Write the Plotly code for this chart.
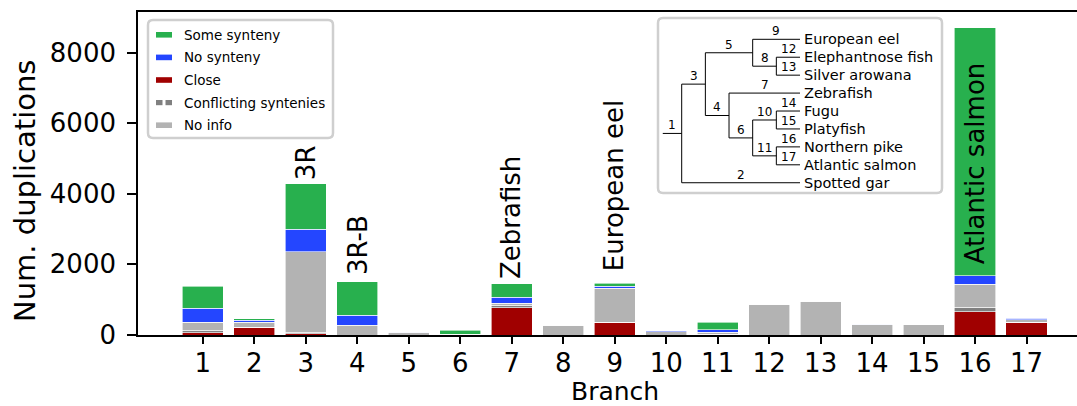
import plotly.graph_objects as go

# ---------------- data ----------------
branches = list(range(1, 18))
close = [66, 217, 40, 0, 0, 0, 773, 0, 358, 0, 15, 0, 0, 0, 0, 660, 358]
conflicting = [66, 0, 35, 0, 0, 0, 75, 0, 0, 0, 0, 0, 0, 0, 0, 123, 0]
no_info = [236, 142, 2283, 283, 70, 15, 47, 283, 971, 95, 70, 877, 953, 295, 292, 651, 80]
no_synteny = [387, 57, 632, 283, 15, 0, 179, 0, 57, 28, 66, 0, 0, 16, 0, 245, 35]
some_synteny = [623, 47, 1292, 943, 0, 120, 377, 0, 75, 0, 208, 0, 0, 0, 0, 7018, 15]

series_names = ["Close", "Conflicting syntenies", "No info", "No synteny", "Some synteny"]
series_values = [close, conflicting, no_info, no_synteny, some_synteny]
series_colors = ["#a00000", "#808080", "#b3b3b3", "#2446ff", "#28b04e"]
legend_order = ["Some synteny", "No synteny", "Close", "Conflicting syntenies", "No info"]

bar_label_branches = [3, 4, 7, 9]
bar_label_texts = ["3R", "3R-B", "Zebrafish", "European eel"]
inside_label_branch = 16
inside_label_text = "Atlantic salmon"

ytick_vals = [0, 2000, 4000, 6000, 8000]

# tree: (branch label, children or leaf name)
tree = ("1", [
    ("3", [
        ("5", [("9", "European eel"),
               ("8", [("12", "Elephantnose fish"), ("13", "Silver arowana")])]),
        ("4", [("7", "Zebrafish"),
               ("6", [("10", [("14", "Fugu"), ("15", "Platyfish")]),
                      ("11", [("16", "Northern pike"), ("17", "Atlantic salmon")])])]),
    ]),
    ("2", "Spotted gar"),
])

# ---------------- layout geometry ----------------
W, H = 1077, 406
ML, MR, MT, MB = 138, 0, 12, 71
PW = W - ML - MR
PH = H - MT - MB
FONT = "DejaVu Sans"


def pxx(x):
    return (x - ML) / PW


def pxy(y):
    return (H - MB - y) / PH


fig = go.Figure()
for name, vals, col in zip(series_names, series_values, series_colors):
    fig.add_trace(go.Bar(
        x=branches, y=vals, name=name, width=0.8, showlegend=False,
        marker=dict(color=col, line=dict(color="rgba(255,255,255,0.75)", width=0.8)),
    ))

totals = [sum(v) for v in zip(*series_values)]
below_green = [t - g for t, g in zip(totals, some_synteny)]

annotations = []
label_shifts = [2, 5, 3, 10.5]
for b, t, s in zip(bar_label_branches, bar_label_texts, label_shifts):
    annotations.append(dict(
        x=b, y=totals[b - 1], xref="x", yref="y", text=t, textangle=-90,
        xanchor="center", yanchor="bottom", yshift=s, showarrow=False,
        font=dict(family=FONT, size=26, color="black")))
annotations.append(dict(
    x=inside_label_branch, y=below_green[inside_label_branch - 1], xref="x", yref="y",
    text=inside_label_text, textangle=-90, xanchor="center", yanchor="bottom",
    yshift=9.5, showarrow=False, font=dict(family=FONT, size=26, color="black")))

# axis titles
annotations.append(dict(x=9, y=pxy(391.5), xref="x", yref="paper", text="Branch",
                        showarrow=False, xanchor="center", yanchor="middle",
                        font=dict(family=FONT, size=25, color="black")))
annotations.append(dict(x=pxx(25), y=pxy(191), xref="paper", yref="paper",
                        text="Num. duplications", textangle=-90, showarrow=False,
                        xanchor="center", yanchor="middle",
                        font=dict(family=FONT, size=29, color="black")))

shapes = []


def rounded_box(x0, y0, x1, y1, r=5):
    X = lambda v: pxx(v)
    Y = lambda v: pxy(v)
    p = (f"M {X(x0 + r)},{Y(y0)} L {X(x1 - r)},{Y(y0)} Q {X(x1)},{Y(y0)} {X(x1)},{Y(y0 + r)} "
         f"L {X(x1)},{Y(y1 - r)} Q {X(x1)},{Y(y1)} {X(x1 - r)},{Y(y1)} "
         f"L {X(x0 + r)},{Y(y1)} Q {X(x0)},{Y(y1)} {X(x0)},{Y(y1 - r)} "
         f"L {X(x0)},{Y(y0 + r)} Q {X(x0)},{Y(y0)} {X(x0 + r)},{Y(y0)} Z")
    return dict(type="path", path=p, xref="paper", yref="paper",
                line=dict(color="#cfcfcf", width=2.5), fillcolor="white", layer="below")


# custom legend
shapes.append(rounded_box(148, 20, 333, 138))
row_y0, row_dy = 34.8, 22.6
for i, name in enumerate(legend_order):
    cy = row_y0 + i * row_dy
    col = series_colors[series_names.index(name)]
    if name == "Conflicting syntenies":
        for a, b in [(156, 162.5), (165.5, 172)]:
            shapes.append(dict(type="rect", xref="paper", yref="paper",
                               x0=pxx(a), x1=pxx(b), y0=pxy(cy - 2.6), y1=pxy(cy + 2.6),
                               fillcolor=col, line=dict(width=0)))
    else:
        shapes.append(dict(type="rect", xref="paper", yref="paper",
                           x0=pxx(156), x1=pxx(172), y0=pxy(cy - 2.8), y1=pxy(cy + 2.8),
                           fillcolor=col, line=dict(width=0)))
    annotations.append(dict(x=pxx(182), y=pxy(cy), xref="paper", yref="paper", text=name,
                            showarrow=False, xanchor="left", yanchor="middle",
                            font=dict(family=FONT, size=13.5, color="black")))

# tree inset
shapes.append(rounded_box(658, 18, 942, 193))


def height(node):
    lab, ch = node
    if isinstance(ch, str):
        return 0
    return 1 + max(height(c) for c in ch)


HT = height(tree)
leaf_counter = [0]
seg_x, seg_y = [], []
node_labels = []
leaf_labels = []


def layout_node(node, parent_col):
    lab, ch = node
    col = HT - height(node)
    if isinstance(ch, str):
        y = leaf_counter[0]
        leaf_counter[0] += 1
        leaf_labels.append((col, y, ch))
    else:
        ys = [layout_node(c, col) for c in ch]
        y = sum(ys) / len(ys)
        seg_x.extend([col, col, None])
        seg_y.extend([ys[0], ys[-1], None])
    seg_x.extend([parent_col, col, None])
    seg_y.extend([y, y, None])
    node_labels.append(((parent_col + col) / 2, y, lab))
    return y


layout_node(tree, -0.8)

fig.add_trace(go.Scatter(x=seg_x, y=seg_y, mode="lines", xaxis="x2", yaxis="y2",
                         line=dict(color="black", width=1), showlegend=False, hoverinfo="skip"))
for x, y, t in node_labels:
    annotations.append(dict(x=x, y=y, xref="x2", yref="y2", text=t, showarrow=False,
                            xanchor="center", yanchor="bottom", yshift=-1,
                            font=dict(family=FONT, size=12, color="black")))
for x, y, t in leaf_labels:
    annotations.append(dict(x=x, y=y, xref="x2", yref="y2", text=t, showarrow=False,
                            xanchor="left", yanchor="middle", xshift=2,
                            font=dict(family=FONT, size=14.5, color="black")))

# inset axes mapping: col -> px 681.7 + col*23.66 ; row -> py 39.3 + row*17.93
c0, cdx = 681.7, 23.66
r0, rdy = 39.3, 17.93
bx0, bx1, by0, by1 = 660, 940, 20, 191
fig.update_layout(
    xaxis2=dict(domain=[pxx(bx0), pxx(bx1)], range=[(bx0 - c0) / cdx, (bx1 - c0) / cdx],
                visible=False, anchor="y2", fixedrange=True),
    yaxis2=dict(domain=[pxy(by1), pxy(by0)], range=[(by1 - r0) / rdy, (by0 - r0) / rdy],
                visible=False, anchor="x2", fixedrange=True),
)

fig.update_layout(
    width=W, height=H, margin=dict(l=ML, r=MR, t=MT, b=MB),
    barmode="stack", bargap=0.2,
    plot_bgcolor="white", paper_bgcolor="white",
    font=dict(family=FONT, color="black"),
    showlegend=False,
    xaxis=dict(range=[-0.26, 17.98], tickmode="array", tickvals=branches,
               ticktext=[str(b) for b in branches], ticks="outside", ticklen=7,
               tickwidth=1.5, tickcolor="black", showline=True, linecolor="black",
               linewidth=1.6, mirror=True, showgrid=False, zeroline=False,
               ticklabelstandoff=-3,
               tickfont=dict(family=FONT, size=26, color="black")),
    yaxis=dict(range=[0, 9149], tickmode="array", tickvals=ytick_vals,
               ticks="outside", ticklen=9, tickwidth=1.5, tickcolor="black",
               showline=True, linecolor="black", linewidth=1.6, mirror=False,
               showgrid=False, zeroline=False, ticklabelstandoff=6,
               tickfont=dict(family=FONT, size=26, color="black")),
    annotations=annotations, shapes=shapes,
)

fig.write_html("out.html")
